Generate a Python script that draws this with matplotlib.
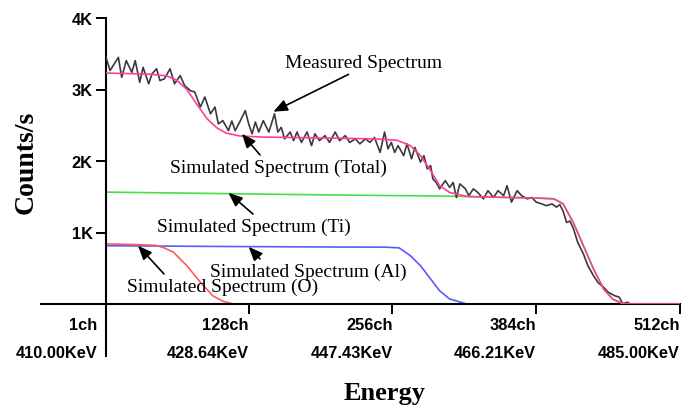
import matplotlib
matplotlib.use("Agg")
import matplotlib.pyplot as plt
import matplotlib.transforms as mtransforms

# measured spectrum (channel, counts/s)
meas_ch = [1, 4.6, 12, 15, 19, 24, 27, 31, 34, 39, 42, 46, 49, 53, 58, 62, 67, 71, 76, 80,
           85, 89, 94, 98, 101, 105, 110, 113, 116, 120, 125, 128, 131, 134, 137, 141, 146,
           151, 154, 157, 160, 165, 168, 171, 175, 180, 184, 187, 191, 196, 200, 205, 209,
           214, 218, 223, 227, 232, 236, 240, 245, 249, 252, 255, 258, 261, 266, 269, 273,
           276, 281, 284, 287, 290, 292, 295, 298, 303, 307, 310, 313, 316, 321, 324, 328,
           332, 337, 341, 346, 350, 355, 358, 362, 367, 371, 376, 380, 384, 389, 393, 398,
           402, 405, 408, 411, 414, 417, 421, 426, 430, 435, 439, 444, 448, 454, 458, 461,
           465, 468, 512]
meas_counts = [3450, 3265, 3450, 3170, 3405, 3240, 3405, 3100, 3310, 3080, 3220, 3290, 3125,
               3150, 3290, 3080, 3195, 3055, 2985, 2965, 2755, 2895, 2660, 2755, 2520, 2565,
               2425, 2560, 2425, 2545, 2705, 2520, 2380, 2545, 2405, 2565, 2405, 2660, 2405,
               2470, 2310, 2405, 2285, 2405, 2260, 2405, 2215, 2380, 2285, 2355, 2260, 2405,
               2285, 2355, 2260, 2310, 2240, 2310, 2260, 2330, 2120, 2405, 2170, 2260, 2120,
               2215, 2075, 2240, 2030, 2190, 1985, 2075, 1890, 1935, 1750, 1700, 1610, 1725,
               1630, 1700, 1490, 1680, 1610, 1515, 1610, 1560, 1470, 1585, 1490, 1585, 1515,
               1655, 1425, 1585, 1515, 1470, 1490, 1425, 1400, 1375, 1400, 1355, 1390, 1295,
               1140, 1160, 1060, 860, 700, 535, 395, 300, 235, 165, 115, 95, 0, 25, 0, 0]

# simulated total
tot_ch = [1, 40, 55, 64, 73, 82, 91, 100, 108, 120, 140, 200, 240, 260, 272, 281, 290, 298,
          307, 322, 330, 360, 387, 400, 408, 417, 426, 435, 444, 452, 460, 470, 512]
tot_counts = [3230, 3215, 3190, 3130, 3000, 2790, 2590, 2460, 2390, 2350, 2335, 2320, 2310,
              2290, 2215, 2075, 1865, 1655, 1560, 1505, 1500, 1490, 1480, 1470, 1400, 1140,
              815, 490, 210, 70, 10, 0, 0]

# simulated Ti
ti_ch = [1, 100, 200, 300, 330, 360, 387, 400, 408, 417, 426, 435, 444, 452, 460, 470, 512]
ti_counts = [1565, 1545, 1525, 1510, 1500, 1490, 1480, 1470, 1400, 1140, 815, 490, 210, 70,
             10, 0, 0]

# simulated Al
al_ch = [1, 100, 200, 250, 262, 272, 281, 290, 298, 307, 319, 322, 512]
al_counts = [815, 805, 797, 795, 785, 675, 535, 350, 185, 70, 15, 0, 0]

# simulated O
o_ch = [1, 30, 45, 52, 61, 73, 85, 96, 105, 114, 512]
o_counts = [840, 830, 820, 790, 725, 535, 305, 115, 40, 0, 0]

xticks = [1, 128, 256, 384, 512]
xtick_labels = ["1ch\n410.00KeV", "128ch\n428.64KeV", "256ch\n447.43KeV",
                "384ch\n466.21KeV", "512ch\n485.00KeV"]
yticks = [1000, 2000, 3000, 4000]
ytick_labels = ["1K", "2K", "3K", "4K"]

# (text, text position, arrow tip, relpos on text box)
notes = [
    ("Measured Spectrum", (160, 3315), (150, 2690), (0.45, 0.0)),
    ("Simulated Spectrum (Total)", (58, 1846), (122, 2380), (0.43, 1.0)),
    ("Simulated Spectrum (Ti)", (46, 1021), (110, 1555), (0.52, 1.0)),
    ("Simulated Spectrum (Al)", (94, 392), (128, 800), (0.27, 1.0)),
    ("Simulated Spectrum (O)", (20, 182), (29.5, 815), (0.21, 1.0)),
]

serif = "Liberation Serif"
sans = "Liberation Sans"

fig = plt.figure(figsize=(6.95, 4.1), dpi=100)
ax = fig.add_axes([106 / 695, 105 / 410, 574 / 695, 286 / 410])

ax.plot(meas_ch, meas_counts, color="#3a3a3a", lw=1.2, zorder=3)
ax.plot(ti_ch, ti_counts, color="#44e044", lw=1.2, zorder=2)
ax.plot(al_ch, al_counts, color="#5a5aff", lw=1.2, zorder=2)
ax.plot(o_ch, o_counts, color="#ff5a5a", lw=1.2, zorder=2)
ax.plot(tot_ch, tot_counts, color="#ff3d9a", lw=1.2, zorder=4)

ax.set_xlim(1, 512)
ax.set_ylim(0, 4000)

for s in ("top", "right"):
    ax.spines[s].set_visible(False)
ax.spines["left"].set_linewidth(1.5)
ax.spines["bottom"].set_linewidth(1.5)
ax.spines["left"].set_bounds(-730, 4000)
ax.spines["bottom"].set_bounds(-57, 512)

ax.set_xticks(xticks)
ax.set_xticklabels(xtick_labels, fontfamily=sans, fontweight="bold", fontsize=11.8)
ax.set_yticks(yticks)
ax.set_yticklabels(ytick_labels, fontfamily=sans, fontweight="bold", fontsize=11.8)
ax.tick_params(axis="both", direction="out", length=7, width=1.4, pad=2.5)

for lab in ax.get_xticklabels():
    lab.set_horizontalalignment("right")
    lab.set_multialignment("right")
    lab.set_linespacing(2.05)
first = ax.get_xticklabels()[0]
first.set_transform(first.get_transform()
                    + mtransforms.ScaledTranslation(-6 / 72, 0, fig.dpi_scale_trans))

ax.set_ylabel("Counts/s", fontfamily=serif, fontweight="bold", fontsize=20)
ax.yaxis.set_label_coords(-0.118, 0.5)
ax.set_xlabel("Energy", fontfamily=serif, fontweight="bold", fontsize=19, va="center")
ax.xaxis.set_label_coords(0.486, -0.31)

for text, pos, tip, rel in notes:
    ax.annotate(text, xy=tip, xytext=pos, ha="left", va="baseline",
                fontfamily=serif, fontsize=14, zorder=5,
                arrowprops=dict(arrowstyle="-|>,head_length=0.6,head_width=0.25",
                                color="black", lw=1.2, relpos=rel,
                                shrinkA=1, shrinkB=0))

fig.savefig("out.png", dpi=100)
